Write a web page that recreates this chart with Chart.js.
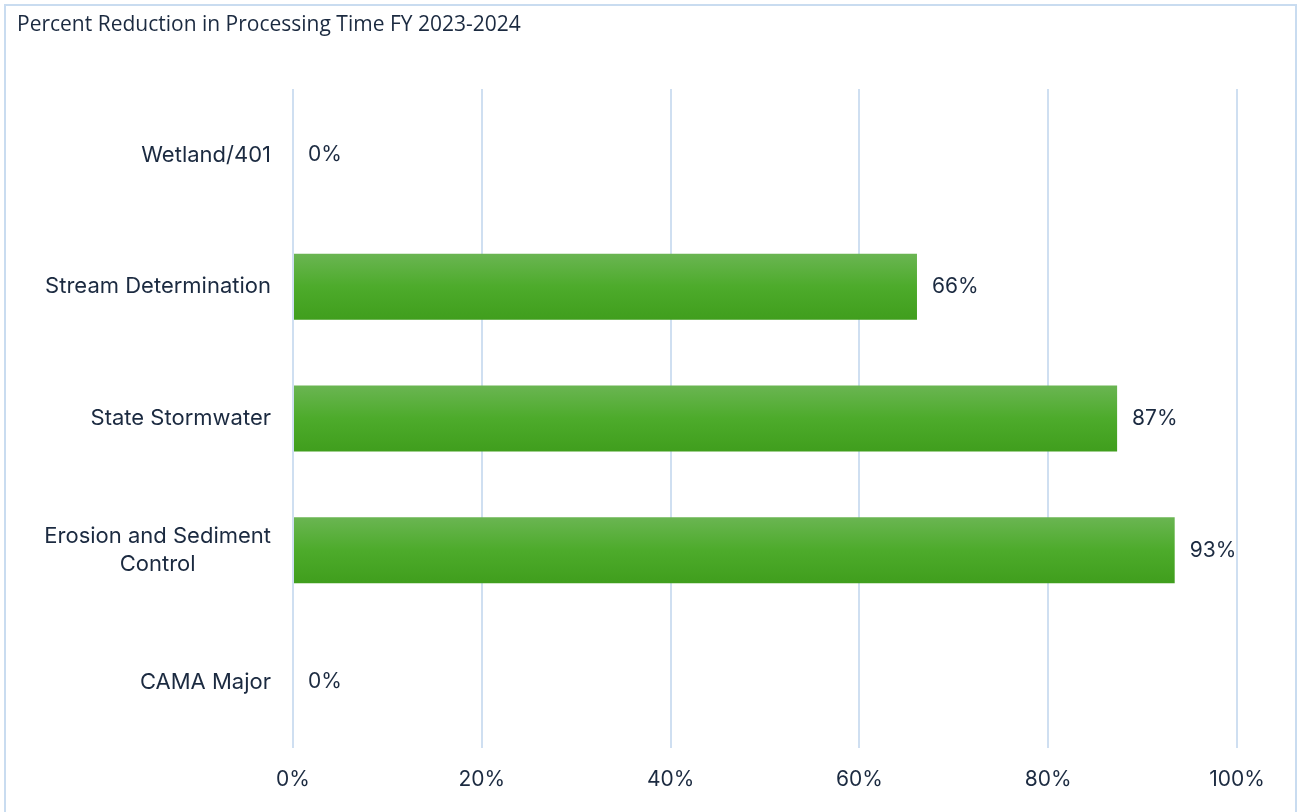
<!DOCTYPE html>
<html>
<head>
<meta charset="utf-8">
<script src="https://cdn.jsdelivr.net/npm/chart.js@4.4.1/dist/chart.umd.min.js"></script>
<style>
  body { margin: 0; padding: 0; background: #fff; }
  #wrap { position: relative; width: 1299px; height: 812px; }
</style>
</head>
<body>
<div id="wrap"><canvas id="myChart" width="1299" height="812"></canvas></div>
<script>
// chart data
const title = "Percent Reduction in Processing Time FY 2023-2024";
const categories = [
  ["Wetland/401"],
  ["Stream Determination"],
  ["State Stormwater"],
  ["Erosion and Sediment", "Control"],
  ["CAMA Major"]
];
const reduction = [0, 66.1, 87.3, 93.4, 0];
const xTicks = [0, 20, 40, 60, 80, 100];

const textColor = "#1b2a40";
const labelFont = "Inter";

// frame + title
const framePlugin = {
  id: "frame",
  beforeDraw(chart) {
    const ctx = chart.ctx;
    ctx.save();
    ctx.fillStyle = "#fff";
    ctx.fillRect(0, 0, chart.width, chart.height);
    ctx.strokeStyle = "#c9dcf0";
    ctx.lineWidth = 2;
    ctx.strokeRect(5, 5, chart.width - 3 - 5, chart.height + 10);
    ctx.fillStyle = textColor;
    ctx.font = "21px 'Open Sans'";
    ctx.textBaseline = "middle";
    ctx.fillText(title, 17, 25);
    ctx.restore();
  }
};

// category labels, right aligned block, lines centered inside
const catPlugin = {
  id: "catLabels",
  afterDraw(chart) {
    const ctx = chart.ctx;
    const y = chart.scales.y;
    ctx.save();
    ctx.fillStyle = textColor;
    ctx.font = "22px " + labelFont;
    ctx.textAlign = "center";
    ctx.textBaseline = "middle";
    const right = 271;
    categories.forEach((lines, i) => {
      const cy = y.getPixelForValue(i);
      const w = Math.max(...lines.map(l => ctx.measureText(l).width));
      const lh = 28;
      lines.forEach((l, j) => {
        ctx.fillText(l, right - w / 2, cy + (j - (lines.length - 1) / 2) * lh);
      });
    });
    ctx.restore();
  }
};

// value labels at bar ends
const valuePlugin = {
  id: "valueLabels",
  afterDatasetsDraw(chart) {
    const ctx = chart.ctx;
    const meta = chart.getDatasetMeta(0);
    ctx.save();
    ctx.fillStyle = textColor;
    ctx.font = "21px " + labelFont;
    ctx.textBaseline = "middle";
    meta.data.forEach((bar, i) => {
      ctx.fillText(Math.round(reduction[i]) + "%", bar.x + 15, bar.y);
    });
    ctx.restore();
  }
};

const ctx = document.getElementById("myChart").getContext("2d");
new Chart(ctx, {
  type: "bar",
  data: {
    labels: categories,
    datasets: [{
      data: reduction,
      backgroundColor(c) {
        const chart = c.chart;
        const ys = chart.scales.y;
        if (!ys || c.dataIndex === undefined) return "#4aa828";
        const cy = ys.getPixelForValue(c.dataIndex);
        if (!Number.isFinite(cy)) return "#4aa828";
        const g = chart.ctx.createLinearGradient(0, cy - 33, 0, cy + 33);
        g.addColorStop(0, "#6ab552");
        g.addColorStop(0.5, "#4dab2b");
        g.addColorStop(1, "#409e1d");
        return g;
      },
      borderWidth: 0,
      barPercentage: 0.5,
      categoryPercentage: 1
    }]
  },
  options: {
    indexAxis: "y",
    responsive: false,
    animation: false,
    layout: { padding: { left: 293, right: 62, top: 89, bottom: 0 } },
    plugins: {
      legend: { display: false },
      tooltip: { enabled: false }
    },
    scales: {
      x: {
        min: 0,
        max: 100,
        afterBuildTicks(scale) {
          scale.ticks = xTicks.map(v => ({ value: v }));
        },
        afterFit(scale) { scale.height = 64; },
        grid: { color: "#cfdff1", lineWidth: 2, drawTicks: false },
        border: { display: false },
        ticks: {
          color: textColor,
          font: { family: labelFont, size: 21 },
          padding: 19,
          callback: v => v + "%"
        }
      },
      y: {
        display: false
      }
    }
  },
  plugins: [framePlugin, catPlugin, valuePlugin]
});
</script>
</body>
</html>
